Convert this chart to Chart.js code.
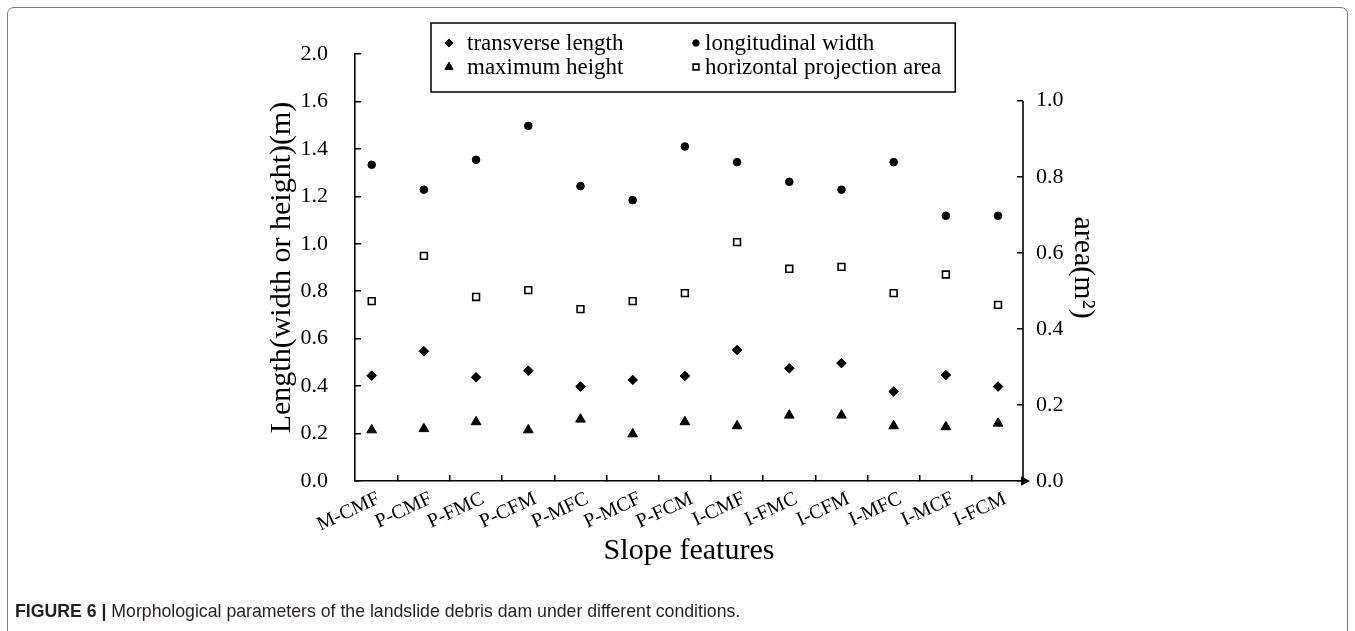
<!DOCTYPE html>
<html>
<head>
<meta charset="utf-8">
<script src="https://cdn.jsdelivr.net/npm/chart.js@4.4.1/dist/chart.umd.min.js"></script>
<style>
  html, body { margin: 0; padding: 0; background: #fff; }
  body { width: 1355px; height: 631px; overflow: hidden; position: relative; }
  #frame { position: absolute; left: 7px; top: 7px; width: 1341px; height: 700px;
           border: 1px solid #7a7a7a; border-radius: 7px; box-sizing: border-box; }
  #wrap { position: absolute; left: 0; top: 0; width: 1355px; height: 631px; }
  #caption { position: absolute; left: 15px; top: 601px; white-space: nowrap;
             font-family: "Liberation Sans", Arial, sans-serif; font-size: 17.7px; color: #231f20; }
  #caption b { font-weight: bold; }
</style>
</head>
<body>
<div id="frame"></div>
<div id="wrap"><canvas id="c" width="1355" height="631"></canvas></div>
<div id="caption"><b>FIGURE 6 |</b> Morphological parameters of the landslide debris dam under different conditions.</div>

<script>
// Slope configurations along the x axis
const categories = ['M-CMF', 'P-CMF', 'P-FMC', 'P-CFM', 'P-MFC', 'P-MCF', 'P-FCM',
                    'I-CMF', 'I-FMC', 'I-CFM', 'I-MFC', 'I-MCF', 'I-FCM'];

// Dam dimensions (m), left axis
const transverseLength  = [0.444, 0.547, 0.437, 0.465, 0.398, 0.426, 0.443, 0.552, 0.475, 0.497, 0.377, 0.447, 0.398];
const longitudinalWidth = [1.333, 1.228, 1.354, 1.497, 1.243, 1.184, 1.410, 1.344, 1.261, 1.228, 1.344, 1.118, 1.118];
const maximumHeight     = [0.215, 0.220, 0.249, 0.215, 0.260, 0.198, 0.249, 0.232, 0.277, 0.277, 0.232, 0.228, 0.243];

// Horizontal projection area (m²), right axis
const projectionArea    = [0.473, 0.592, 0.484, 0.502, 0.452, 0.473, 0.494, 0.628, 0.558, 0.563, 0.494, 0.543, 0.463];

// Axis tick labels (step 0.2)
const leftTickLabels  = ['0.0', '0.2', '0.4', '0.6', '0.8', '1.0', '1.2', '1.4', '1.6', '2.0'];
const rightTickLabels = ['0.0', '0.2', '0.4', '0.6', '0.8', '1.0'];
const TICK_STEP = 0.2;

const SERIF = '"Liberation Serif", "Times New Roman", serif';
const INK = '#000';

const toPoints = vals => vals.map((v, i) => ({ x: i, y: v }));

function drawMarker(ctx, style, x, y, r) {
  ctx.beginPath();
  if (style === 'circle') {
    ctx.arc(x, y, r, 0, Math.PI * 2);
  } else if (style === 'rectRot') {
    ctx.moveTo(x - r, y); ctx.lineTo(x, y - r); ctx.lineTo(x + r, y); ctx.lineTo(x, y + r);
  } else if (style === 'triangle') {
    ctx.moveTo(x, y - r);
    ctx.lineTo(x + r * Math.sin(Math.PI * 2 / 3), y - r * Math.cos(Math.PI * 2 / 3));
    ctx.lineTo(x + r * Math.sin(Math.PI * 4 / 3), y - r * Math.cos(Math.PI * 4 / 3));
  } else if (style === 'rect') {
    const s = r * Math.SQRT1_2;
    ctx.rect(x - s, y - s, 2 * s, 2 * s);
  }
  ctx.closePath();
}

// Boxed two-column legend at the top
const boxedLegend = {
  id: 'boxedLegend',
  afterDraw(chart) {
    const ctx = chart.ctx;
    const dsets = chart.data.datasets;
    const left = 431, top = 23, bottom = 92;
    const colMarker = [449, 696], colText = [467, 705], rowY = [43, 67];
    ctx.save();
    ctx.font = '23px ' + SERIF;
    ctx.textBaseline = 'middle';
    ctx.fillStyle = INK;
    let maxRight = 0;
    dsets.forEach((ds, i) => {
      const col = i % 2, row = Math.floor(i / 2);
      drawMarker(ctx, ds.pointStyle, colMarker[col], rowY[row], ds.pointRadius * 0.85);
      ctx.fillStyle = ds.pointBackgroundColor;
      ctx.fill();
      ctx.lineWidth = ds.pointBorderWidth;
      ctx.strokeStyle = ds.pointBorderColor;
      ctx.stroke();
      ctx.fillStyle = INK;
      ctx.fillText(ds.label, colText[col], rowY[row] + 1);
      maxRight = Math.max(maxRight, colText[col] + ctx.measureText(ds.label).width);
    });
    ctx.lineWidth = 1.5;
    ctx.strokeStyle = INK;
    ctx.strokeRect(left, top, maxRight + 14 - left, bottom - top);
    ctx.restore();
  }
};

// Right axis line only over its labelled range, plus the arrowhead on the x axis
const axisExtras = {
  id: 'axisExtras',
  afterDraw(chart) {
    const ctx = chart.ctx;
    const { right, bottom } = chart.chartArea;
    const y2 = chart.scales.y2;
    ctx.save();
    ctx.strokeStyle = INK;
    ctx.lineWidth = 1.6;
    ctx.beginPath();
    ctx.moveTo(right, y2.getPixelForValue(0));
    ctx.lineTo(right, y2.getPixelForValue((rightTickLabels.length - 1) * TICK_STEP));
    ctx.stroke();
    ctx.fillStyle = INK;
    ctx.beginPath();
    ctx.moveTo(right - 2, bottom - 4.8);
    ctx.lineTo(right + 7, bottom);
    ctx.lineTo(right - 2, bottom + 4.8);
    ctx.closePath();
    ctx.fill();
    ctx.restore();
  }
};

const black = { pointBackgroundColor: INK, pointBorderColor: INK, pointBorderWidth: 1 };

new Chart(document.getElementById('c'), {
  type: 'scatter',
  data: {
    datasets: [
      { label: 'transverse length', data: toPoints(transverseLength), yAxisID: 'y',
        pointStyle: 'rectRot', pointRadius: 4.8, ...black },
      { label: 'longitudinal width', data: toPoints(longitudinalWidth), yAxisID: 'y',
        pointStyle: 'circle', pointRadius: 3.8, ...black },
      { label: 'maximum height', data: toPoints(maximumHeight), yAxisID: 'y',
        pointStyle: 'triangle', pointRadius: 5.6, ...black },
      { label: 'horizontal projection area', data: toPoints(projectionArea), yAxisID: 'y2',
        pointStyle: 'rect', pointRadius: 4.8, pointBackgroundColor: '#fff',
        pointBorderColor: INK, pointBorderWidth: 1.6 }
    ]
  },
  options: {
    responsive: false,
    animation: false,
    devicePixelRatio: 1,
    layout: { padding: { left: 262, right: 252, top: 54, bottom: 60 } },
    plugins: { legend: { display: false }, tooltip: { enabled: false } },
    elements: { point: { hoverRadius: 5 } },
    scales: {
      x: {
        type: 'linear',
        position: 'bottom',
        min: -0.32,
        max: 12.478,
        afterBuildTicks: s => { s.ticks = categories.map((c, i) => ({ value: i })); },
        afterFit: s => { s.height = 90; },
        grid: { offset: true, drawOnChartArea: false, tickLength: -6, color: INK, lineWidth: 1.5 },
        border: { color: INK, width: 1.6 },
        ticks: {
          autoSkip: false, maxRotation: 25, minRotation: 25, padding: 12, labelOffset: 7,
          color: INK, font: { family: SERIF, size: 20 },
          callback: v => categories[v]
        },
        title: { display: true, text: 'Slope features', color: INK,
                 font: { family: SERIF, size: 30 }, padding: { top: 0, bottom: 2 } }
      },
      y: {
        position: 'left',
        min: 0,
        max: (leftTickLabels.length - 1) * TICK_STEP,
        afterBuildTicks: s => { s.ticks = leftTickLabels.map((t, i) => ({ value: i * TICK_STEP })); },
        afterFit: s => { s.width = 93; },
        grid: { drawOnChartArea: false, tickLength: -6, color: INK, lineWidth: 1.5 },
        border: { color: INK, width: 1.6 },
        ticks: {
          padding: 33, color: INK, font: { family: SERIF, size: 22 },
          callback: (v, i) => leftTickLabels[i]
        },
        title: { display: true, text: 'Length(width or height)(m)', color: INK,
                 font: { family: SERIF, size: 30 }, padding: { top: 2, bottom: 0 } }
      },
      y2: {
        position: 'right',
        min: 0,
        max: 427 / 380.3,
        afterBuildTicks: s => { s.ticks = rightTickLabels.map((t, i) => ({ value: i * TICK_STEP })); },
        afterFit: s => { s.width = 80; },
        grid: { drawOnChartArea: false, tickLength: -6, color: INK, lineWidth: 1.5 },
        border: { display: false },
        ticks: {
          padding: 19, color: INK, font: { family: SERIF, size: 22 },
          callback: (v, i) => rightTickLabels[i]
        },
        title: { display: true, text: 'area(m²)', color: INK,
                 font: { family: SERIF, size: 30 }, padding: { top: 2, bottom: 0 } }
      }
    }
  },
  plugins: [boxedLegend, axisExtras]
});
</script>
</body>
</html>
